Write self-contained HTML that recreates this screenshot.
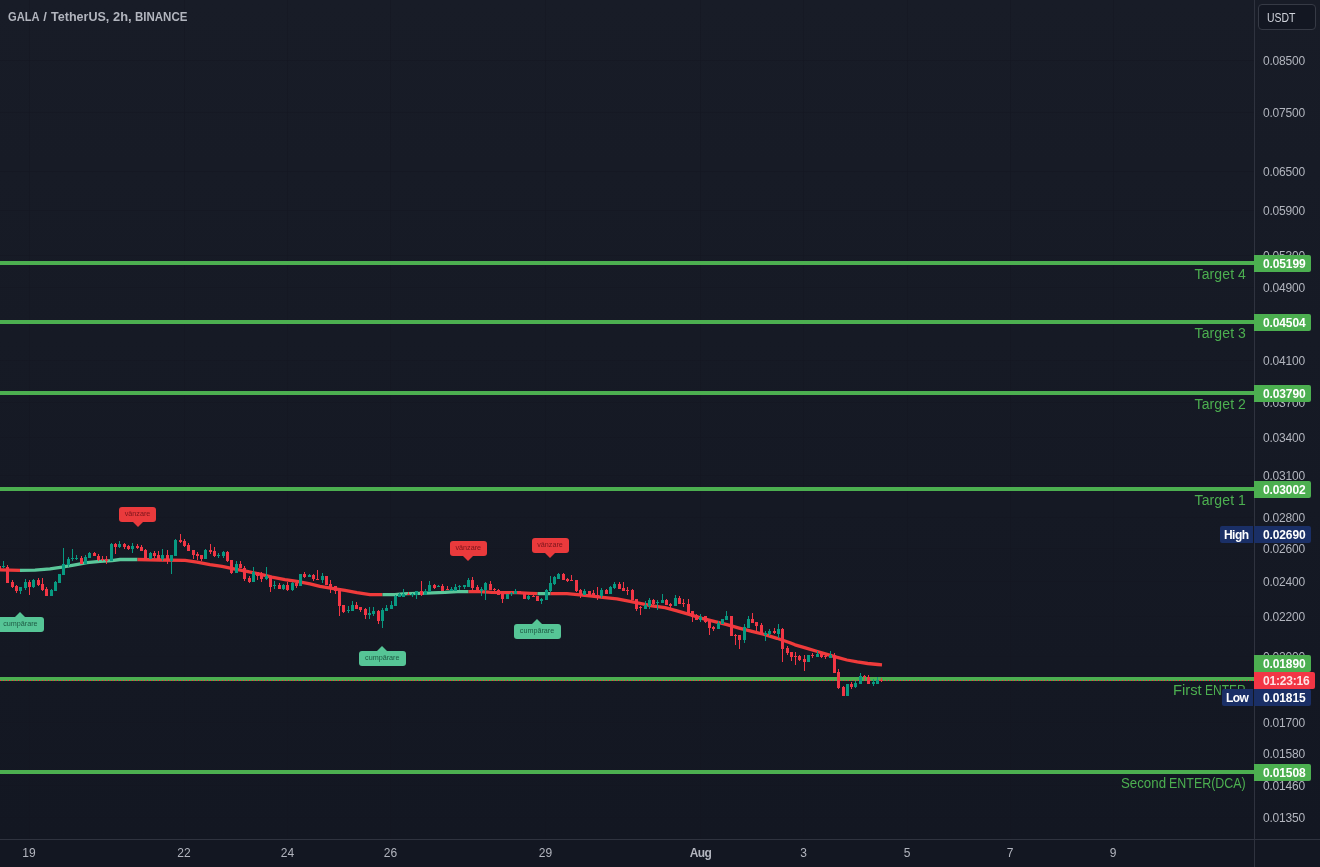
<!DOCTYPE html>
<html><head><meta charset="utf-8"><title>GALA / TetherUS</title>
<style>
html,body{margin:0;padding:0;}
body{width:1320px;height:867px;overflow:hidden;background:#131722;font-family:"Liberation Sans",sans-serif;}
#wrap{will-change:transform;position:relative;width:1320px;height:867px;overflow:hidden;
 background:linear-gradient(to bottom,#181c27 0px,#131722 839px,#131722 867px);}
.abs{position:absolute;}
.plab{position:absolute;left:1263px;font-size:12px;line-height:14px;color:#b2b5be;white-space:nowrap;letter-spacing:-0.2px;}
.tlab{position:absolute;top:846px;font-size:12px;line-height:14px;color:#b2b5be;white-space:nowrap;transform:translateX(-50%);}
.hl{position:absolute;left:0;width:1254px;height:4px;background:#4caf50;}
.pbox{position:absolute;left:1254px;width:57px;height:17px;border-radius:0 2px 2px 0;color:#fff;font-weight:bold;font-size:12px;line-height:19px;box-sizing:border-box;padding-left:9px;white-space:nowrap;letter-spacing:-0.13px;overflow:hidden;}
.gtxt{position:absolute;right:74px;font-size:14px;line-height:16px;color:#4caf50;white-space:nowrap;}
.sig{position:absolute;height:15px;border-radius:3px;font-size:7.2px;line-height:13px;text-align:center;white-space:nowrap;}
.sell{background:#ea3a3c;color:#7a151b;width:37px;}
.buy{background:#56c596;color:#1f5a44;width:47px;}
</style></head><body><div id="wrap">

<div class="abs" style="left:29px;top:0;width:1px;height:839px;background:rgba(19,23,34,0.45)"></div>
<div class="abs" style="left:184px;top:0;width:1px;height:839px;background:rgba(19,23,34,0.45)"></div>
<div class="abs" style="left:287px;top:0;width:1px;height:839px;background:rgba(19,23,34,0.45)"></div>
<div class="abs" style="left:390px;top:0;width:1px;height:839px;background:rgba(19,23,34,0.45)"></div>
<div class="abs" style="left:545px;top:0;width:1px;height:839px;background:rgba(19,23,34,0.45)"></div>
<div class="abs" style="left:700px;top:0;width:1px;height:839px;background:rgba(19,23,34,0.45)"></div>
<div class="abs" style="left:803px;top:0;width:1px;height:839px;background:rgba(19,23,34,0.45)"></div>
<div class="abs" style="left:907px;top:0;width:1px;height:839px;background:rgba(19,23,34,0.45)"></div>
<div class="abs" style="left:1010px;top:0;width:1px;height:839px;background:rgba(19,23,34,0.45)"></div>
<div class="abs" style="left:1113px;top:0;width:1px;height:839px;background:rgba(19,23,34,0.45)"></div>
<div class="abs" style="left:0;top:60px;width:1254px;height:1px;background:rgba(19,23,34,0.45)"></div>
<div class="abs" style="left:0;top:112px;width:1254px;height:1px;background:rgba(19,23,34,0.45)"></div>
<div class="abs" style="left:0;top:171px;width:1254px;height:1px;background:rgba(19,23,34,0.45)"></div>
<div class="abs" style="left:0;top:210px;width:1254px;height:1px;background:rgba(19,23,34,0.45)"></div>
<div class="abs" style="left:0;top:255px;width:1254px;height:1px;background:rgba(19,23,34,0.45)"></div>
<div class="abs" style="left:0;top:287px;width:1254px;height:1px;background:rgba(19,23,34,0.45)"></div>
<div class="abs" style="left:0;top:360px;width:1254px;height:1px;background:rgba(19,23,34,0.45)"></div>
<div class="abs" style="left:0;top:402px;width:1254px;height:1px;background:rgba(19,23,34,0.45)"></div>
<div class="abs" style="left:0;top:437px;width:1254px;height:1px;background:rgba(19,23,34,0.45)"></div>
<div class="abs" style="left:0;top:475px;width:1254px;height:1px;background:rgba(19,23,34,0.45)"></div>
<div class="abs" style="left:0;top:517px;width:1254px;height:1px;background:rgba(19,23,34,0.45)"></div>
<div class="abs" style="left:0;top:548px;width:1254px;height:1px;background:rgba(19,23,34,0.45)"></div>
<div class="abs" style="left:0;top:581px;width:1254px;height:1px;background:rgba(19,23,34,0.45)"></div>
<div class="abs" style="left:0;top:616px;width:1254px;height:1px;background:rgba(19,23,34,0.45)"></div>
<div class="abs" style="left:0;top:656px;width:1254px;height:1px;background:rgba(19,23,34,0.45)"></div>
<div class="abs" style="left:0;top:722px;width:1254px;height:1px;background:rgba(19,23,34,0.45)"></div>
<div class="abs" style="left:0;top:753px;width:1254px;height:1px;background:rgba(19,23,34,0.45)"></div>
<div class="abs" style="left:0;top:785px;width:1254px;height:1px;background:rgba(19,23,34,0.45)"></div>
<div class="abs" style="left:0;top:817px;width:1254px;height:1px;background:rgba(19,23,34,0.45)"></div>
<div class="hl" style="top:261px"></div>
<div class="gtxt" style="top:266px;letter-spacing:0.1px">Target 4</div>
<div class="hl" style="top:320px"></div>
<div class="gtxt" style="top:325px;letter-spacing:0.1px">Target 3</div>
<div class="hl" style="top:391px"></div>
<div class="gtxt" style="top:396px;letter-spacing:0.1px">Target 2</div>
<div class="hl" style="top:487px"></div>
<div class="gtxt" style="top:492px;letter-spacing:0.1px">Target 1</div>
<div class="hl" style="top:677px"></div>
<div class="gtxt" style="right:auto;left:1172.5px;top:682px;transform-origin:0 0;transform:scaleX(1.05)">First</div>
<div class="gtxt" style="right:auto;left:1205.2px;top:682px;transform-origin:0 0;transform:scaleX(0.858)">ENTER</div>
<div class="hl" style="top:770px"></div>
<div class="gtxt" style="right:auto;left:1121.1px;top:775px;transform-origin:0 0;transform:scaleX(0.948)">Second</div>
<div class="gtxt" style="right:auto;left:1169.3px;top:775px;transform-origin:0 0;transform:scaleX(0.889)">ENTER(DCA)</div>
<div class="abs" style="left:0;top:680px;width:1254px;height:1px;background:repeating-linear-gradient(to right,#f23645 0px,#f23645 1px,transparent 1px,transparent 3px)"></div>
<svg class="abs" style="left:0;top:0" width="1254" height="839" viewBox="0 0 1254 839" shape-rendering="auto">
<polyline fill="none" stroke="#ef3b3b" stroke-width="3.3" stroke-linejoin="round" stroke-linecap="butt" points="0,569.95 10,570.2 20,570.45"/>
<polyline fill="none" stroke="#5bc79a" stroke-width="3.3" stroke-linejoin="round" stroke-linecap="butt" points="20,570.45 35,570.2 50,568.95 62,567.1 75,564.95 87,562.7 100,561.45 112,560.6 120,559.5 137.5,559.5"/>
<polyline fill="none" stroke="#ef3b3b" stroke-width="3.3" stroke-linejoin="round" stroke-linecap="butt" points="137.5,559.5 160,560.0 185,560.45 197,562.1 210,564.6 222,566.45 235,569.2 247,571.45 260,574.2 272,577.1 285,579.6 297,581.45 310,583.95 320,586.45 332,588.3 345,590.45 357,592.7 370,594.6 382.5,594.6"/>
<polyline fill="none" stroke="#5bc79a" stroke-width="3.3" stroke-linejoin="round" stroke-linecap="butt" points="382.5,594.6 395,594.6 400,594.2 407,593.7 420,593.3 432,592.95 445,592.45 457,591.7 468.5,591.7"/>
<polyline fill="none" stroke="#ef3b3b" stroke-width="3.3" stroke-linejoin="round" stroke-linecap="butt" points="468.5,591.7 480,591.7 492,592.45 505,592.7 517,592.7 530,593.3 537.5,593.6"/>
<polyline fill="none" stroke="#5bc79a" stroke-width="3.3" stroke-linejoin="round" stroke-linecap="butt" points="537.5,593.6 542,593.7 550.5,593.7"/>
<polyline fill="none" stroke="#ef3b3b" stroke-width="3.3" stroke-linejoin="round" points="550.5,593.7 555,593.7 567,593.7 580,594.95 592,596.2 605,597.7 617,598.95 630,601.45 640,603.3 652,605.8 665,607.7 677,610.8 690,614.6 702,618.3 715,621.7 727,624.6 740,628.3 752,631.45 765,634.6 777,638.3 790,642.7 795,644.8 805.4,647.9 815.8,651.0 826.1,654.1 836.5,657.2 846.9,660.0 857.3,661.9 867.7,663.5 878,664.5 882,664.8"/>
<rect x="0" y="566" width="1" height="3" fill="#f23645"/>
<rect x="3" y="561" width="1" height="7" fill="#089981"/>
<rect x="2" y="566" width="3" height="1" fill="#089981"/>
<rect x="7" y="565" width="1" height="18" fill="#f23645"/>
<rect x="6" y="567" width="3" height="16" fill="#f23645"/>
<rect x="12" y="580" width="1" height="8" fill="#f23645"/>
<rect x="11" y="582" width="3" height="5" fill="#f23645"/>
<rect x="16" y="585" width="1" height="8" fill="#f23645"/>
<rect x="15" y="586" width="3" height="5" fill="#f23645"/>
<rect x="20" y="587" width="1" height="7" fill="#089981"/>
<rect x="19" y="587" width="3" height="4" fill="#089981"/>
<rect x="25" y="579" width="1" height="11" fill="#089981"/>
<rect x="24" y="582" width="3" height="6" fill="#089981"/>
<rect x="29" y="580" width="1" height="15" fill="#f23645"/>
<rect x="28" y="582" width="3" height="5" fill="#f23645"/>
<rect x="33" y="579" width="1" height="9" fill="#089981"/>
<rect x="32" y="580" width="3" height="7" fill="#089981"/>
<rect x="38" y="578" width="1" height="8" fill="#f23645"/>
<rect x="37" y="580" width="3" height="5" fill="#f23645"/>
<rect x="42" y="578" width="1" height="13" fill="#f23645"/>
<rect x="41" y="584" width="3" height="6" fill="#f23645"/>
<rect x="46" y="587" width="1" height="9" fill="#f23645"/>
<rect x="45" y="589" width="3" height="7" fill="#f23645"/>
<rect x="51" y="589" width="1" height="7" fill="#089981"/>
<rect x="50" y="590" width="3" height="6" fill="#089981"/>
<rect x="55" y="581" width="1" height="10" fill="#089981"/>
<rect x="54" y="582" width="3" height="9" fill="#089981"/>
<rect x="59" y="574" width="1" height="9" fill="#089981"/>
<rect x="58" y="574" width="3" height="9" fill="#089981"/>
<rect x="63" y="548" width="1" height="27" fill="#089981"/>
<rect x="62" y="564" width="3" height="11" fill="#089981"/>
<rect x="68" y="557" width="1" height="10" fill="#089981"/>
<rect x="67" y="559" width="3" height="6" fill="#089981"/>
<rect x="72" y="549" width="1" height="12" fill="#089981"/>
<rect x="71" y="558" width="3" height="1" fill="#089981"/>
<rect x="76" y="555" width="1" height="5" fill="#089981"/>
<rect x="75" y="558" width="3" height="1" fill="#089981"/>
<rect x="81" y="556" width="1" height="8" fill="#f23645"/>
<rect x="80" y="558" width="3" height="6" fill="#f23645"/>
<rect x="85" y="555" width="1" height="9" fill="#089981"/>
<rect x="84" y="557" width="3" height="7" fill="#089981"/>
<rect x="89" y="552" width="1" height="6" fill="#089981"/>
<rect x="88" y="553" width="3" height="5" fill="#089981"/>
<rect x="94" y="552" width="1" height="4" fill="#f23645"/>
<rect x="93" y="553" width="3" height="3" fill="#f23645"/>
<rect x="98" y="554" width="1" height="7" fill="#f23645"/>
<rect x="97" y="556" width="3" height="4" fill="#f23645"/>
<rect x="102" y="556" width="1" height="5" fill="#f23645"/>
<rect x="101" y="559" width="3" height="1" fill="#f23645"/>
<rect x="106" y="556" width="1" height="8" fill="#f23645"/>
<rect x="105" y="559" width="3" height="2" fill="#f23645"/>
<rect x="111" y="543" width="1" height="18" fill="#089981"/>
<rect x="110" y="544" width="3" height="17" fill="#089981"/>
<rect x="115" y="543" width="1" height="11" fill="#f23645"/>
<rect x="114" y="544" width="3" height="3" fill="#f23645"/>
<rect x="119" y="541" width="1" height="7" fill="#089981"/>
<rect x="118" y="544" width="3" height="3" fill="#089981"/>
<rect x="124" y="543" width="1" height="6" fill="#f23645"/>
<rect x="123" y="544" width="3" height="3" fill="#f23645"/>
<rect x="128" y="545" width="1" height="5" fill="#f23645"/>
<rect x="127" y="546" width="3" height="3" fill="#f23645"/>
<rect x="132" y="543" width="1" height="10" fill="#089981"/>
<rect x="131" y="546" width="3" height="3" fill="#089981"/>
<rect x="137" y="544" width="1" height="5" fill="#f23645"/>
<rect x="136" y="546" width="3" height="2" fill="#f23645"/>
<rect x="141" y="545" width="1" height="6" fill="#f23645"/>
<rect x="140" y="547" width="3" height="4" fill="#f23645"/>
<rect x="145" y="549" width="1" height="10" fill="#f23645"/>
<rect x="144" y="550" width="3" height="9" fill="#f23645"/>
<rect x="150" y="552" width="1" height="7" fill="#089981"/>
<rect x="149" y="553" width="3" height="6" fill="#089981"/>
<rect x="154" y="551" width="1" height="7" fill="#f23645"/>
<rect x="153" y="553" width="3" height="3" fill="#f23645"/>
<rect x="158" y="551" width="1" height="8" fill="#f23645"/>
<rect x="157" y="555" width="3" height="4" fill="#f23645"/>
<rect x="162" y="549" width="1" height="12" fill="#089981"/>
<rect x="161" y="555" width="3" height="4" fill="#089981"/>
<rect x="167" y="550" width="1" height="14" fill="#f23645"/>
<rect x="166" y="555" width="3" height="5" fill="#f23645"/>
<rect x="171" y="555" width="1" height="19" fill="#089981"/>
<rect x="170" y="555" width="3" height="6" fill="#089981"/>
<rect x="175" y="539" width="1" height="17" fill="#089981"/>
<rect x="174" y="540" width="3" height="16" fill="#089981"/>
<rect x="180" y="534" width="1" height="9" fill="#f23645"/>
<rect x="179" y="540" width="3" height="2" fill="#f23645"/>
<rect x="184" y="539" width="1" height="8" fill="#f23645"/>
<rect x="183" y="541" width="3" height="5" fill="#f23645"/>
<rect x="188" y="543" width="1" height="8" fill="#f23645"/>
<rect x="187" y="545" width="3" height="6" fill="#f23645"/>
<rect x="193" y="550" width="1" height="9" fill="#f23645"/>
<rect x="192" y="550" width="3" height="5" fill="#f23645"/>
<rect x="197" y="552" width="1" height="8" fill="#f23645"/>
<rect x="196" y="554" width="3" height="2" fill="#f23645"/>
<rect x="201" y="555" width="1" height="6" fill="#f23645"/>
<rect x="200" y="555" width="3" height="4" fill="#f23645"/>
<rect x="205" y="549" width="1" height="10" fill="#089981"/>
<rect x="204" y="550" width="3" height="9" fill="#089981"/>
<rect x="210" y="544" width="1" height="10" fill="#f23645"/>
<rect x="209" y="550" width="3" height="2" fill="#f23645"/>
<rect x="214" y="547" width="1" height="10" fill="#f23645"/>
<rect x="213" y="551" width="3" height="5" fill="#f23645"/>
<rect x="218" y="553" width="1" height="5" fill="#089981"/>
<rect x="217" y="555" width="3" height="1" fill="#089981"/>
<rect x="223" y="551" width="1" height="7" fill="#089981"/>
<rect x="222" y="552" width="3" height="4" fill="#089981"/>
<rect x="227" y="551" width="1" height="11" fill="#f23645"/>
<rect x="226" y="552" width="3" height="9" fill="#f23645"/>
<rect x="231" y="560" width="1" height="14" fill="#f23645"/>
<rect x="230" y="560" width="3" height="13" fill="#f23645"/>
<rect x="236" y="561" width="1" height="12" fill="#089981"/>
<rect x="235" y="564" width="3" height="9" fill="#089981"/>
<rect x="240" y="561" width="1" height="7" fill="#f23645"/>
<rect x="239" y="564" width="3" height="4" fill="#f23645"/>
<rect x="244" y="566" width="1" height="15" fill="#f23645"/>
<rect x="243" y="568" width="3" height="11" fill="#f23645"/>
<rect x="249" y="576" width="1" height="7" fill="#f23645"/>
<rect x="248" y="578" width="3" height="4" fill="#f23645"/>
<rect x="253" y="567" width="1" height="15" fill="#089981"/>
<rect x="252" y="572" width="3" height="10" fill="#089981"/>
<rect x="257" y="572" width="1" height="8" fill="#f23645"/>
<rect x="256" y="572" width="3" height="4" fill="#f23645"/>
<rect x="261" y="572" width="1" height="10" fill="#f23645"/>
<rect x="260" y="574" width="3" height="5" fill="#f23645"/>
<rect x="266" y="567" width="1" height="13" fill="#089981"/>
<rect x="265" y="576" width="3" height="3" fill="#089981"/>
<rect x="270" y="576" width="1" height="16" fill="#f23645"/>
<rect x="269" y="576" width="3" height="11" fill="#f23645"/>
<rect x="274" y="581" width="1" height="8" fill="#089981"/>
<rect x="273" y="585" width="3" height="1" fill="#089981"/>
<rect x="279" y="583" width="1" height="6" fill="#f23645"/>
<rect x="278" y="585" width="3" height="4" fill="#f23645"/>
<rect x="283" y="584" width="1" height="6" fill="#089981"/>
<rect x="282" y="585" width="3" height="4" fill="#089981"/>
<rect x="287" y="582" width="1" height="9" fill="#f23645"/>
<rect x="286" y="585" width="3" height="5" fill="#f23645"/>
<rect x="292" y="582" width="1" height="9" fill="#089981"/>
<rect x="291" y="583" width="3" height="7" fill="#089981"/>
<rect x="296" y="582" width="1" height="6" fill="#f23645"/>
<rect x="295" y="583" width="3" height="3" fill="#f23645"/>
<rect x="300" y="574" width="1" height="12" fill="#089981"/>
<rect x="299" y="574" width="3" height="12" fill="#089981"/>
<rect x="304" y="572" width="1" height="6" fill="#f23645"/>
<rect x="303" y="574" width="3" height="3" fill="#f23645"/>
<rect x="309" y="574" width="1" height="3" fill="#089981"/>
<rect x="308" y="575" width="3" height="2" fill="#089981"/>
<rect x="313" y="574" width="1" height="7" fill="#f23645"/>
<rect x="312" y="575" width="3" height="4" fill="#f23645"/>
<rect x="317" y="570" width="1" height="10" fill="#f23645"/>
<rect x="316" y="579" width="3" height="1" fill="#f23645"/>
<rect x="322" y="573" width="1" height="10" fill="#089981"/>
<rect x="321" y="576" width="3" height="4" fill="#089981"/>
<rect x="326" y="576" width="1" height="9" fill="#f23645"/>
<rect x="325" y="576" width="3" height="9" fill="#f23645"/>
<rect x="330" y="580" width="1" height="13" fill="#f23645"/>
<rect x="329" y="584" width="3" height="4" fill="#f23645"/>
<rect x="335" y="586" width="1" height="8" fill="#f23645"/>
<rect x="334" y="586" width="3" height="5" fill="#f23645"/>
<rect x="339" y="589" width="1" height="27" fill="#f23645"/>
<rect x="338" y="589" width="3" height="17" fill="#f23645"/>
<rect x="343" y="605" width="1" height="8" fill="#f23645"/>
<rect x="342" y="605" width="3" height="7" fill="#f23645"/>
<rect x="348" y="606" width="1" height="7" fill="#089981"/>
<rect x="347" y="610" width="3" height="1" fill="#089981"/>
<rect x="352" y="601" width="1" height="10" fill="#089981"/>
<rect x="351" y="605" width="3" height="6" fill="#089981"/>
<rect x="356" y="602" width="1" height="7" fill="#f23645"/>
<rect x="355" y="605" width="3" height="4" fill="#f23645"/>
<rect x="360" y="607" width="1" height="5" fill="#f23645"/>
<rect x="359" y="607" width="3" height="3" fill="#f23645"/>
<rect x="365" y="608" width="1" height="11" fill="#f23645"/>
<rect x="364" y="609" width="3" height="6" fill="#f23645"/>
<rect x="369" y="607" width="1" height="12" fill="#089981"/>
<rect x="368" y="613" width="3" height="2" fill="#089981"/>
<rect x="373" y="607" width="1" height="9" fill="#089981"/>
<rect x="372" y="611" width="3" height="3" fill="#089981"/>
<rect x="378" y="610" width="1" height="14" fill="#f23645"/>
<rect x="377" y="611" width="3" height="10" fill="#f23645"/>
<rect x="382" y="608" width="1" height="20" fill="#089981"/>
<rect x="381" y="610" width="3" height="11" fill="#089981"/>
<rect x="386" y="605" width="1" height="6" fill="#089981"/>
<rect x="385" y="608" width="3" height="3" fill="#089981"/>
<rect x="391" y="601" width="1" height="8" fill="#089981"/>
<rect x="390" y="605" width="3" height="4" fill="#089981"/>
<rect x="395" y="595" width="1" height="11" fill="#089981"/>
<rect x="394" y="596" width="3" height="10" fill="#089981"/>
<rect x="399" y="593" width="1" height="4" fill="#089981"/>
<rect x="398" y="594" width="3" height="3" fill="#089981"/>
<rect x="403" y="589" width="1" height="8" fill="#089981"/>
<rect x="402" y="594" width="3" height="3" fill="#089981"/>
<rect x="408" y="592" width="1" height="3" fill="#f23645"/>
<rect x="407" y="594" width="3" height="1" fill="#f23645"/>
<rect x="412" y="593" width="1" height="4" fill="#089981"/>
<rect x="411" y="594" width="3" height="1" fill="#089981"/>
<rect x="416" y="591" width="1" height="8" fill="#089981"/>
<rect x="415" y="591" width="3" height="4" fill="#089981"/>
<rect x="421" y="581" width="1" height="15" fill="#f23645"/>
<rect x="420" y="591" width="3" height="4" fill="#f23645"/>
<rect x="425" y="589" width="1" height="6" fill="#089981"/>
<rect x="424" y="591" width="3" height="4" fill="#089981"/>
<rect x="429" y="581" width="1" height="11" fill="#089981"/>
<rect x="428" y="585" width="3" height="7" fill="#089981"/>
<rect x="434" y="584" width="1" height="5" fill="#f23645"/>
<rect x="433" y="585" width="3" height="3" fill="#f23645"/>
<rect x="438" y="585" width="1" height="2" fill="#089981"/>
<rect x="437" y="586" width="3" height="1" fill="#089981"/>
<rect x="442" y="584" width="1" height="7" fill="#f23645"/>
<rect x="441" y="586" width="3" height="5" fill="#f23645"/>
<rect x="447" y="586" width="1" height="4" fill="#f23645"/>
<rect x="446" y="589" width="3" height="1" fill="#f23645"/>
<rect x="451" y="587" width="1" height="4" fill="#089981"/>
<rect x="450" y="589" width="3" height="2" fill="#089981"/>
<rect x="455" y="584" width="1" height="7" fill="#089981"/>
<rect x="454" y="587" width="3" height="4" fill="#089981"/>
<rect x="459" y="585" width="1" height="5" fill="#089981"/>
<rect x="458" y="586" width="3" height="1" fill="#089981"/>
<rect x="464" y="585" width="1" height="4" fill="#089981"/>
<rect x="463" y="585" width="3" height="2" fill="#089981"/>
<rect x="468" y="578" width="1" height="9" fill="#089981"/>
<rect x="467" y="580" width="3" height="7" fill="#089981"/>
<rect x="472" y="577" width="1" height="13" fill="#f23645"/>
<rect x="471" y="580" width="3" height="8" fill="#f23645"/>
<rect x="477" y="585" width="1" height="5" fill="#f23645"/>
<rect x="476" y="587" width="3" height="3" fill="#f23645"/>
<rect x="481" y="587" width="1" height="9" fill="#089981"/>
<rect x="480" y="589" width="3" height="2" fill="#089981"/>
<rect x="485" y="582" width="1" height="18" fill="#089981"/>
<rect x="484" y="583" width="3" height="7" fill="#089981"/>
<rect x="490" y="581" width="1" height="9" fill="#f23645"/>
<rect x="489" y="584" width="3" height="6" fill="#f23645"/>
<rect x="494" y="588" width="1" height="3" fill="#f23645"/>
<rect x="493" y="589" width="3" height="1" fill="#f23645"/>
<rect x="498" y="589" width="1" height="6" fill="#f23645"/>
<rect x="497" y="590" width="3" height="5" fill="#f23645"/>
<rect x="502" y="593" width="1" height="10" fill="#f23645"/>
<rect x="501" y="593" width="3" height="6" fill="#f23645"/>
<rect x="507" y="594" width="1" height="5" fill="#089981"/>
<rect x="506" y="594" width="3" height="5" fill="#089981"/>
<rect x="511" y="592" width="1" height="4" fill="#089981"/>
<rect x="510" y="593" width="3" height="1" fill="#089981"/>
<rect x="515" y="589" width="1" height="5" fill="#089981"/>
<rect x="514" y="591" width="3" height="3" fill="#089981"/>
<rect x="519" y="591" width="1" height="3" fill="#f23645"/>
<rect x="518" y="591" width="3" height="3" fill="#f23645"/>
<rect x="524" y="592" width="1" height="7" fill="#f23645"/>
<rect x="523" y="593" width="3" height="6" fill="#f23645"/>
<rect x="528" y="595" width="1" height="5" fill="#089981"/>
<rect x="527" y="596" width="3" height="3" fill="#089981"/>
<rect x="533" y="594" width="1" height="3" fill="#f23645"/>
<rect x="532" y="596" width="3" height="1" fill="#f23645"/>
<rect x="537" y="596" width="1" height="5" fill="#f23645"/>
<rect x="536" y="596" width="3" height="5" fill="#f23645"/>
<rect x="541" y="598" width="1" height="6" fill="#089981"/>
<rect x="540" y="599" width="3" height="2" fill="#089981"/>
<rect x="546" y="589" width="1" height="11" fill="#089981"/>
<rect x="545" y="590" width="3" height="10" fill="#089981"/>
<rect x="550" y="576" width="1" height="16" fill="#089981"/>
<rect x="549" y="583" width="3" height="8" fill="#089981"/>
<rect x="554" y="576" width="1" height="9" fill="#089981"/>
<rect x="553" y="577" width="3" height="7" fill="#089981"/>
<rect x="558" y="573" width="1" height="6" fill="#089981"/>
<rect x="557" y="574" width="3" height="5" fill="#089981"/>
<rect x="563" y="573" width="1" height="7" fill="#f23645"/>
<rect x="562" y="574" width="3" height="6" fill="#f23645"/>
<rect x="567" y="578" width="1" height="4" fill="#f23645"/>
<rect x="566" y="579" width="3" height="2" fill="#f23645"/>
<rect x="571" y="575" width="1" height="6" fill="#f23645"/>
<rect x="570" y="580" width="3" height="1" fill="#f23645"/>
<rect x="576" y="580" width="1" height="12" fill="#f23645"/>
<rect x="575" y="580" width="3" height="11" fill="#f23645"/>
<rect x="580" y="589" width="1" height="9" fill="#f23645"/>
<rect x="579" y="590" width="3" height="5" fill="#f23645"/>
<rect x="584" y="589" width="1" height="6" fill="#089981"/>
<rect x="583" y="591" width="3" height="4" fill="#089981"/>
<rect x="589" y="591" width="1" height="4" fill="#f23645"/>
<rect x="588" y="591" width="3" height="4" fill="#f23645"/>
<rect x="593" y="590" width="1" height="6" fill="#f23645"/>
<rect x="592" y="593" width="3" height="3" fill="#f23645"/>
<rect x="597" y="587" width="1" height="13" fill="#f23645"/>
<rect x="596" y="595" width="3" height="3" fill="#f23645"/>
<rect x="601" y="588" width="1" height="10" fill="#089981"/>
<rect x="600" y="590" width="3" height="6" fill="#089981"/>
<rect x="606" y="589" width="1" height="5" fill="#f23645"/>
<rect x="605" y="590" width="3" height="4" fill="#f23645"/>
<rect x="610" y="586" width="1" height="8" fill="#089981"/>
<rect x="609" y="587" width="3" height="7" fill="#089981"/>
<rect x="614" y="582" width="1" height="7" fill="#089981"/>
<rect x="613" y="584" width="3" height="4" fill="#089981"/>
<rect x="619" y="582" width="1" height="7" fill="#f23645"/>
<rect x="618" y="584" width="3" height="5" fill="#f23645"/>
<rect x="623" y="582" width="1" height="9" fill="#f23645"/>
<rect x="622" y="588" width="3" height="3" fill="#f23645"/>
<rect x="627" y="587" width="1" height="8" fill="#f23645"/>
<rect x="626" y="590" width="3" height="1" fill="#f23645"/>
<rect x="632" y="589" width="1" height="11" fill="#f23645"/>
<rect x="631" y="590" width="3" height="10" fill="#f23645"/>
<rect x="636" y="599" width="1" height="12" fill="#f23645"/>
<rect x="635" y="599" width="3" height="10" fill="#f23645"/>
<rect x="640" y="606" width="1" height="9" fill="#f23645"/>
<rect x="639" y="607" width="3" height="1" fill="#f23645"/>
<rect x="645" y="601" width="1" height="8" fill="#089981"/>
<rect x="644" y="605" width="3" height="4" fill="#089981"/>
<rect x="649" y="598" width="1" height="11" fill="#089981"/>
<rect x="648" y="600" width="3" height="6" fill="#089981"/>
<rect x="653" y="599" width="1" height="6" fill="#f23645"/>
<rect x="652" y="600" width="3" height="4" fill="#f23645"/>
<rect x="657" y="600" width="1" height="10" fill="#089981"/>
<rect x="656" y="602" width="3" height="1" fill="#089981"/>
<rect x="662" y="594" width="1" height="9" fill="#089981"/>
<rect x="661" y="600" width="3" height="3" fill="#089981"/>
<rect x="666" y="599" width="1" height="6" fill="#f23645"/>
<rect x="665" y="600" width="3" height="5" fill="#f23645"/>
<rect x="670" y="603" width="1" height="5" fill="#f23645"/>
<rect x="669" y="604" width="3" height="2" fill="#f23645"/>
<rect x="675" y="595" width="1" height="11" fill="#089981"/>
<rect x="674" y="598" width="3" height="8" fill="#089981"/>
<rect x="679" y="596" width="1" height="8" fill="#f23645"/>
<rect x="678" y="598" width="3" height="6" fill="#f23645"/>
<rect x="683" y="599" width="1" height="8" fill="#f23645"/>
<rect x="682" y="603" width="3" height="1" fill="#f23645"/>
<rect x="688" y="599" width="1" height="14" fill="#f23645"/>
<rect x="687" y="604" width="3" height="9" fill="#f23645"/>
<rect x="692" y="611" width="1" height="11" fill="#f23645"/>
<rect x="691" y="611" width="3" height="6" fill="#f23645"/>
<rect x="696" y="614" width="1" height="6" fill="#f23645"/>
<rect x="695" y="615" width="3" height="5" fill="#f23645"/>
<rect x="700" y="614" width="1" height="8" fill="#089981"/>
<rect x="699" y="617" width="3" height="3" fill="#089981"/>
<rect x="705" y="616" width="1" height="7" fill="#f23645"/>
<rect x="704" y="616" width="3" height="6" fill="#f23645"/>
<rect x="709" y="620" width="1" height="15" fill="#f23645"/>
<rect x="708" y="620" width="3" height="8" fill="#f23645"/>
<rect x="713" y="626" width="1" height="5" fill="#f23645"/>
<rect x="712" y="627" width="3" height="2" fill="#f23645"/>
<rect x="718" y="621" width="1" height="8" fill="#089981"/>
<rect x="717" y="623" width="3" height="6" fill="#089981"/>
<rect x="722" y="619" width="1" height="5" fill="#089981"/>
<rect x="721" y="619" width="3" height="5" fill="#089981"/>
<rect x="726" y="611" width="1" height="9" fill="#089981"/>
<rect x="725" y="616" width="3" height="4" fill="#089981"/>
<rect x="731" y="616" width="1" height="20" fill="#f23645"/>
<rect x="730" y="616" width="3" height="20" fill="#f23645"/>
<rect x="735" y="634" width="1" height="11" fill="#f23645"/>
<rect x="734" y="635" width="3" height="1" fill="#f23645"/>
<rect x="739" y="635" width="1" height="14" fill="#f23645"/>
<rect x="738" y="635" width="3" height="5" fill="#f23645"/>
<rect x="744" y="624" width="1" height="19" fill="#089981"/>
<rect x="743" y="627" width="3" height="13" fill="#089981"/>
<rect x="748" y="616" width="1" height="12" fill="#089981"/>
<rect x="747" y="619" width="3" height="9" fill="#089981"/>
<rect x="752" y="613" width="1" height="10" fill="#f23645"/>
<rect x="751" y="619" width="3" height="4" fill="#f23645"/>
<rect x="756" y="622" width="1" height="9" fill="#f23645"/>
<rect x="755" y="622" width="3" height="4" fill="#f23645"/>
<rect x="761" y="623" width="1" height="12" fill="#f23645"/>
<rect x="760" y="625" width="3" height="10" fill="#f23645"/>
<rect x="765" y="631" width="1" height="10" fill="#089981"/>
<rect x="764" y="633" width="3" height="2" fill="#089981"/>
<rect x="769" y="629" width="1" height="7" fill="#089981"/>
<rect x="768" y="631" width="3" height="3" fill="#089981"/>
<rect x="774" y="628" width="1" height="6" fill="#f23645"/>
<rect x="773" y="631" width="3" height="2" fill="#f23645"/>
<rect x="778" y="624" width="1" height="14" fill="#089981"/>
<rect x="777" y="629" width="3" height="5" fill="#089981"/>
<rect x="782" y="628" width="1" height="34" fill="#f23645"/>
<rect x="781" y="629" width="3" height="20" fill="#f23645"/>
<rect x="787" y="646" width="1" height="9" fill="#f23645"/>
<rect x="786" y="648" width="3" height="5" fill="#f23645"/>
<rect x="791" y="652" width="1" height="9" fill="#f23645"/>
<rect x="790" y="652" width="3" height="5" fill="#f23645"/>
<rect x="795" y="652" width="1" height="13" fill="#f23645"/>
<rect x="794" y="656" width="3" height="1" fill="#f23645"/>
<rect x="799" y="655" width="1" height="6" fill="#f23645"/>
<rect x="798" y="656" width="3" height="4" fill="#f23645"/>
<rect x="804" y="655" width="1" height="16" fill="#f23645"/>
<rect x="803" y="659" width="3" height="3" fill="#f23645"/>
<rect x="808" y="655" width="1" height="7" fill="#089981"/>
<rect x="807" y="655" width="3" height="7" fill="#089981"/>
<rect x="812" y="653" width="1" height="5" fill="#f23645"/>
<rect x="811" y="655" width="3" height="1" fill="#f23645"/>
<rect x="817" y="651" width="1" height="6" fill="#089981"/>
<rect x="816" y="654" width="3" height="3" fill="#089981"/>
<rect x="821" y="653" width="1" height="5" fill="#f23645"/>
<rect x="820" y="654" width="3" height="3" fill="#f23645"/>
<rect x="825" y="655" width="1" height="4" fill="#f23645"/>
<rect x="824" y="656" width="3" height="1" fill="#f23645"/>
<rect x="830" y="651" width="1" height="7" fill="#089981"/>
<rect x="829" y="655" width="3" height="3" fill="#089981"/>
<rect x="834" y="653" width="1" height="20" fill="#f23645"/>
<rect x="833" y="655" width="3" height="18" fill="#f23645"/>
<rect x="838" y="669" width="1" height="20" fill="#f23645"/>
<rect x="837" y="672" width="3" height="16" fill="#f23645"/>
<rect x="843" y="686" width="1" height="10" fill="#f23645"/>
<rect x="842" y="687" width="3" height="9" fill="#f23645"/>
<rect x="847" y="684" width="1" height="12" fill="#089981"/>
<rect x="846" y="684" width="3" height="12" fill="#089981"/>
<rect x="851" y="682" width="1" height="7" fill="#f23645"/>
<rect x="850" y="684" width="3" height="3" fill="#f23645"/>
<rect x="855" y="681" width="1" height="7" fill="#089981"/>
<rect x="854" y="683" width="3" height="4" fill="#089981"/>
<rect x="860" y="673" width="1" height="11" fill="#089981"/>
<rect x="859" y="676" width="3" height="8" fill="#089981"/>
<rect x="864" y="675" width="1" height="6" fill="#f23645"/>
<rect x="863" y="676" width="3" height="1" fill="#f23645"/>
<rect x="868" y="675" width="1" height="9" fill="#f23645"/>
<rect x="867" y="677" width="3" height="7" fill="#f23645"/>
<rect x="873" y="679" width="1" height="7" fill="#089981"/>
<rect x="872" y="682" width="3" height="2" fill="#089981"/>
<rect x="877" y="677" width="1" height="7" fill="#089981"/>
<rect x="876" y="680" width="3" height="4" fill="#089981"/>
<rect x="881" y="678" width="1" height="4" fill="#f23645"/>
<rect x="880" y="680" width="3" height="1" fill="#f23645"/>
</svg>
<div class="abs" style="left:1254px;top:0;width:1px;height:867px;background:#2f333f"></div>
<div class="abs" style="left:0;top:839px;width:1320px;height:1px;background:#2f333f"></div>
<div class="plab" style="top:54px">0.08500</div>
<div class="plab" style="top:106px">0.07500</div>
<div class="plab" style="top:165px">0.06500</div>
<div class="plab" style="top:204px">0.05900</div>
<div class="plab" style="top:249px">0.05300</div>
<div class="plab" style="top:281px">0.04900</div>
<div class="plab" style="top:354px">0.04100</div>
<div class="plab" style="top:396px">0.03700</div>
<div class="plab" style="top:431px">0.03400</div>
<div class="plab" style="top:469px">0.03100</div>
<div class="plab" style="top:511px">0.02800</div>
<div class="plab" style="top:542px">0.02600</div>
<div class="plab" style="top:575px">0.02400</div>
<div class="plab" style="top:610px">0.02200</div>
<div class="plab" style="top:650px">0.02000</div>
<div class="plab" style="top:716px">0.01700</div>
<div class="plab" style="top:747px">0.01580</div>
<div class="plab" style="top:779px">0.01460</div>
<div class="plab" style="top:811px">0.01350</div>
<div class="pbox" style="top:255px;background:#4caf50">0.05199</div>
<div class="pbox" style="top:314px;background:#4caf50">0.04504</div>
<div class="pbox" style="top:385px;background:#4caf50">0.03790</div>
<div class="pbox" style="top:481px;background:#4caf50">0.03002</div>
<div class="pbox" style="top:764px;background:#4caf50">0.01508</div>
<div class="pbox" style="top:655px;background:#4caf50">0.01890</div>
<div class="pbox" style="top:672px;background:#f23645;width:61px;font-weight:bold;letter-spacing:-0.2px;color:#fde4e7">01:23:16</div>
<div class="pbox" style="top:526px;background:#1a2f66">0.02690</div>
<div class="pbox" style="top:689px;background:#1a2f66">0.01815</div>
<div class="pbox" style="top:526px;left:1220px;width:33px;padding-left:4px;border-radius:2px 0 0 2px;letter-spacing:-0.55px;background:#1a2f66">High</div>
<div class="pbox" style="top:689px;left:1222px;width:31px;padding-left:4px;border-radius:2px 0 0 2px;letter-spacing:-0.6px;background:#1a2f66">Low</div>
<div class="abs" style="left:1258px;top:4px;width:58px;height:26px;box-sizing:border-box;border:1px solid #363a45;border-radius:4px;background:#131722;color:#d1d4dc;font-size:12px;line-height:26px;padding-left:8px"><span style="display:inline-block;transform-origin:0 0;transform:scaleX(0.87)">USDT</span></div>
<div class="abs" style="left:7.7px;top:9px;font-size:13px;line-height:16px;font-weight:bold;color:#b2b5be;white-space:nowrap;transform-origin:0 0;transform:scaleX(0.857)">GALA</div>
<div class="abs" style="left:43.2px;top:9px;font-size:13px;line-height:16px;font-weight:bold;color:#b2b5be;white-space:nowrap;transform-origin:0 0;transform:scaleX(1.0)">/</div>
<div class="abs" style="left:51.2px;top:9px;font-size:13px;line-height:16px;font-weight:bold;color:#b2b5be;white-space:nowrap;transform-origin:0 0;transform:scaleX(0.965)">TetherUS,</div>
<div class="abs" style="left:112.7px;top:9px;font-size:13px;line-height:16px;font-weight:bold;color:#b2b5be;white-space:nowrap;transform-origin:0 0;transform:scaleX(0.99)">2h,</div>
<div class="abs" style="left:135.1px;top:9px;font-size:13px;line-height:16px;font-weight:bold;color:#b2b5be;white-space:nowrap;transform-origin:0 0;transform:scaleX(0.885)">BINANCE</div>
<div class="tlab" style="left:29px;">19</div>
<div class="tlab" style="left:184px;">22</div>
<div class="tlab" style="left:287.5px;">24</div>
<div class="tlab" style="left:390.5px;">26</div>
<div class="tlab" style="left:545.5px;">29</div>
<div class="tlab" style="left:700.5px;font-weight:bold;letter-spacing:-0.6px;">Aug</div>
<div class="tlab" style="left:803.5px;">3</div>
<div class="tlab" style="left:907px;">5</div>
<div class="tlab" style="left:1010px;">7</div>
<div class="tlab" style="left:1113px;">9</div>
<div class="sig sell" style="left:119.0px;top:507px">vânzare</div>
<svg class="abs" style="left:131.5px;top:522px" width="12" height="6"><path d="M1 0 L11 0 L6 5 Z" fill="#ea3a3c"/></svg>
<div class="sig sell" style="left:449.75px;top:541px">vânzare</div>
<svg class="abs" style="left:462.25px;top:556px" width="12" height="6"><path d="M1 0 L11 0 L6 5 Z" fill="#ea3a3c"/></svg>
<div class="sig sell" style="left:531.5px;top:538px">vânzare</div>
<svg class="abs" style="left:544px;top:553px" width="12" height="6"><path d="M1 0 L11 0 L6 5 Z" fill="#ea3a3c"/></svg>
<div class="sig buy" style="left:-3.1000000000000014px;top:617px">cumpărare</div>
<svg class="abs" style="left:14.399999999999999px;top:611px" width="12" height="6"><path d="M1 6 L11 6 L6 1 Z" fill="#56c596"/></svg>
<div class="sig buy" style="left:358.75px;top:651px">cumpărare</div>
<svg class="abs" style="left:376.25px;top:645px" width="12" height="6"><path d="M1 6 L11 6 L6 1 Z" fill="#56c596"/></svg>
<div class="sig buy" style="left:513.5px;top:624px">cumpărare</div>
<svg class="abs" style="left:531px;top:618px" width="12" height="6"><path d="M1 6 L11 6 L6 1 Z" fill="#56c596"/></svg>
</div></body></html>
